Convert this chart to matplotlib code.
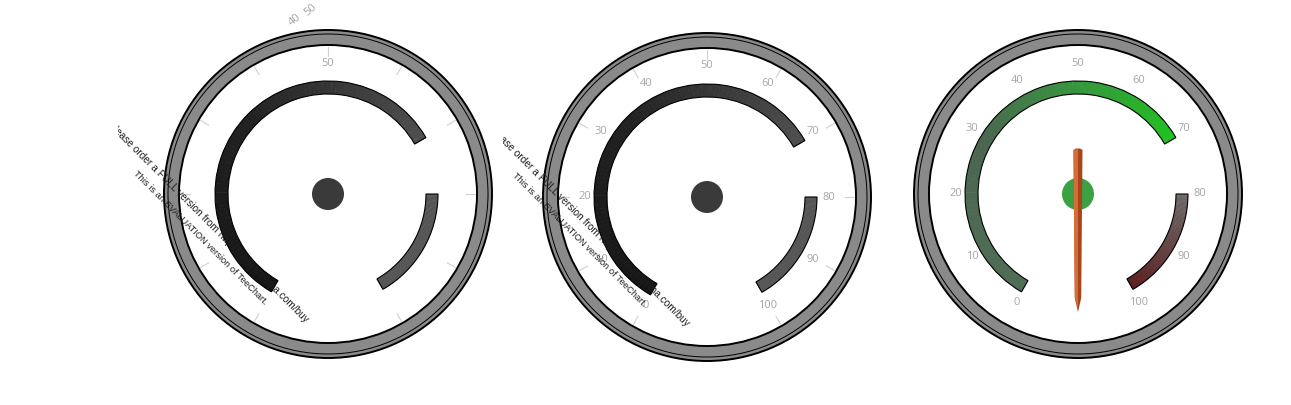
import numpy as np
import matplotlib.pyplot as plt
from matplotlib.patches import Wedge, Circle, Polygon, Rectangle
from matplotlib.colors import to_rgb

W, H = 1291, 405

# scale of every gauge
scale_min, scale_max = 0, 100
tick_values = [0, 10, 20, 30, 40, 50, 60, 70, 80, 90, 100]
tick_labels = ["0", "10", "20", "30", "40", "50", "60", "70", "80", "90", "100"]

# coloured bands (from, to) in scale units
band_low = (0, 70)
band_high = (80, 100)

# which labels each gauge shows (the first one is caught mid-animation)
labels_shown = [["50"], tick_labels, tick_labels]
needle_value = -10  # third gauge only

# band colour stops: (value, colour)
low_stops = [
    [(0, "#151515"), (35, "#222222"), (70, "#505050")],
    [(0, "#151515"), (35, "#222222"), (70, "#505050")],
    [(0, "#4f6d56"), (30, "#4b6650"), (50, "#37963e"), (70, "#1fc21f")],
]
high_stops = [
    [(80, "#555555"), (100, "#555555")],
    [(80, "#555555"), (100, "#555555")],
    [(80, "#6d6969"), (100, "#5b1f1f")],
]
hub_colors = ["#3a3a3a", "#3a3a3a", "#3ca143"]

centers_px = [(328, 194), (707, 197), (1078, 194)]

watermark = ["Please order a FULL version from http://www.steema.com/buy",
             "This is an EVALUATION version of TeeChart."]
watermark_sizes = [7.3, 6.7]


def angle(v):
    return 240 - 300 * (v - scale_min) / (scale_max - scale_min)


def color_at(stops, v):
    vals = [s[0] for s in stops]
    cols = np.array([to_rgb(s[1]) for s in stops])
    return tuple(np.interp(v, vals, cols[:, i]) for i in range(3))


def band(ax, c, rng, stops, r_out, width, n=90):
    edges = np.linspace(rng[0], rng[1], n + 1)
    for a, b in zip(edges[:-1], edges[1:]):
        ax.add_patch(Wedge(c, r_out, angle(b) - 0.3, angle(a), width=width,
                           fc=color_at(stops, (a + b) / 2), ec="none", zorder=3))
    ax.add_patch(Wedge(c, r_out, angle(rng[1]), angle(rng[0]), width=width,
                       fill=False, ec="black", lw=0.8, zorder=4))


fig = plt.figure(figsize=(W / 100, H / 100), dpi=100)
ax = fig.add_axes([0, 0, 1, 1])
ax.set_xlim(0, W)
ax.set_ylim(0, H)
ax.axis("off")

for g, (px, py) in enumerate(centers_px):
    c = (px, H - py)
    # outer ring
    ax.add_patch(Wedge(c, 164, 0, 360, width=15, fc="#8a8a8a", ec="black", lw=1.4, zorder=2))
    ax.add_patch(Circle(c, 160, fill=False, ec="black", lw=0.7, zorder=2))

    # faint ticks
    if g < 2:
        for v in tick_values:
            t = np.radians(angle(v))
            ax.plot([c[0] + 138 * np.cos(t), c[0] + 147 * np.cos(t)],
                    [c[1] + 138 * np.sin(t), c[1] + 147 * np.sin(t)],
                    color="#d0d0d0", lw=0.8, zorder=1)

    # labels
    for v, lab in zip(tick_values, tick_labels):
        if lab not in labels_shown[g]:
            continue
        t = np.radians(angle(v))
        s = np.sin(t)
        lift = 9 * s if s > 0 else 3.5 * s
        ax.text(c[0] + 122 * np.cos(t), c[1] + 122 * s + lift, lab,
                ha="center", va="center", fontsize=8, color="#a6a6a6",
                family="Open Sans", zorder=5)

    band(ax, c, band_low, low_stops[g], 113, 13)
    band(ax, c, band_high, high_stops[g], 110, 12)
    ax.add_patch(Circle(c, 16, fc=hub_colors[g], ec="none", zorder=6))

# stray rotated labels on the first gauge
for lab, (x, y) in zip(["40", "50"], [(295, 20), (311, 10)]):
    ax.text(x, H - y, lab, rotation=40, ha="center", va="center",
            fontsize=8, color="#a6a6a6", family="Open Sans")

# needle of the third gauge
c = (centers_px[2][0], H - centers_px[2][1])
t = np.radians(angle(needle_value))
u = np.array([np.cos(t), np.sin(t)])
n = np.array([-np.sin(t), np.cos(t)])
base = np.array(c)
outline = [(-44, -4.5), (-45.5, -2), (-45.5, 2), (-44, 4.5), (104, 3.2), (118, 0), (104, -3.2)]
light = [(-45, 0), (-44, 4.5), (104, 3.2), (114, 0)]
ax.add_patch(Polygon([base + a * u + b * n for a, b in outline], closed=True,
                     fc="#a8451b", ec="none", zorder=7))
ax.add_patch(Polygon([base + a * u - b * n for a, b in light], closed=True,
                     fc="#d66d37", ec="none", zorder=8))

# evaluation watermark on the first two charts, anchored at the line ends
wm_ends = [[(307, 321), (266, 303)], [(688, 325), (645, 305)]]
clip_x = [118, 503]
for g in range(2):
    clip = Rectangle((clip_x[g], 0), W, H, transform=ax.transData)
    for line, size, (x, y) in zip(watermark, watermark_sizes, wm_ends[g]):
        tx = ax.text(x, H - y, line, rotation=-45, rotation_mode="anchor",
                     ha="right", va="center", fontsize=size, color="#1e1e1e",
                     family="Liberation Sans", zorder=9, clip_on=True)
        tx.set_clip_path(clip)

fig.savefig("out.png", dpi=100)
